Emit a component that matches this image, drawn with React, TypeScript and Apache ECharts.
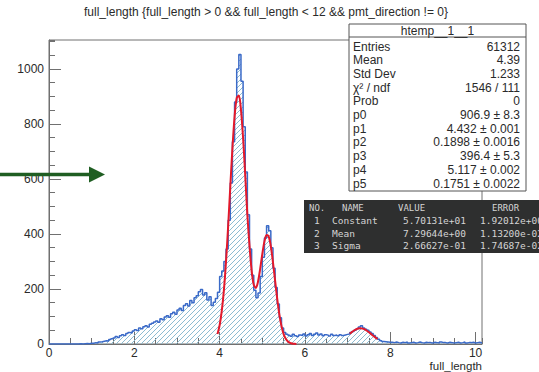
import React, { useEffect, useRef } from 'react';
import * as echarts from 'echarts';

// ---------- data ----------
const titleText = 'full_length {full_length > 0 && full_length < 12 && pmt_direction != 0}';
const xAxisTitle = 'full_length';

// histogram: bin left edges start at 0, width 0.05
const binStart = 0;
const binWidth = 0.05;
const counts = [
  0, 0, 0, 0, 0, 0, 0, 0, 0, 0, 0, 0, 0, 0,
  1, 0, 1, 2, 1, 3,
  3, 5, 4, 7, 8, 10, 12, 11, 16, 19,
  22, 27, 24, 30, 34, 31, 38, 42, 40, 47,
  52, 49, 58, 55, 63, 66, 62, 72, 75, 80,
  84, 79, 92, 88, 98, 103, 97, 110, 115, 108,
  124, 130, 122, 140, 146, 138, 158, 150, 168, 175,
  190, 198, 178, 186, 160, 172, 140, 152, 165, 188,
  245, 265, 300, 345, 450, 585, 735, 880, 1000, 1052,
  955, 790, 625, 470, 345, 250, 195, 168, 185, 245,
  315, 385, 430, 412, 350, 275, 205, 145, 95, 58,
  42, 35, 32, 28, 35, 30, 27, 33, 31, 36,
  29, 34, 38, 31, 35, 40, 33, 36, 30, 34,
  32, 29, 35, 31, 33, 30, 34, 31, 33, 35,
  36, 42, 45, 50, 55, 62, 66, 58, 54, 50,
  44, 38, 31, 24, 17, 12, 9, 8, 7, 6,
  6, 5, 7, 5, 4, 6, 5, 7, 4, 5,
  6, 4, 5, 7, 5, 4, 6, 5, 5, 4,
  6, 5, 4, 7, 5, 5, 4, 6, 5, 4,
  5, 6, 4, 5, 7, 4, 5, 5, 6, 4,
  5, 6, 4,
];

// double-gaussian fit curve
const fitMainX = [
  3.95, 4.0, 4.05, 4.1, 4.15, 4.2, 4.25, 4.3, 4.35, 4.4, 4.45, 4.5, 4.55, 4.6, 4.65,
  4.7, 4.75, 4.8, 4.85, 4.9, 4.95, 5.0, 5.05, 5.1, 5.15, 5.2, 5.25, 5.3, 5.35, 5.4,
  5.45, 5.5, 5.55, 5.6, 5.65, 5.7, 5.75, 5.8,
];
const fitMainY = [
  36, 68, 120, 196, 301, 430, 573, 712, 826, 894, 903, 851, 748, 613, 469,
  358, 267, 215, 204, 227, 273, 327, 373, 396, 390, 355, 297, 230, 164, 107,
  65, 36, 19, 9, 4, 1.6, 0.6, 0.2,
];
// single-gaussian fit around 7.3
const fitSideX = [7.05, 7.1, 7.15, 7.2, 7.25, 7.3, 7.35, 7.4, 7.45, 7.5, 7.55, 7.6, 7.65, 7.7];
const fitSideY = [37.2, 43.5, 49.1, 53.4, 56.2, 57.0, 55.9, 52.8, 48.2, 42.5, 36.2, 29.8, 23.6, 18.1];

// stats box
const statsTitle = 'htemp__1__1';
const statsLabels = ['Entries', 'Mean', 'Std Dev', 'χ² / ndf', 'Prob', 'p0', 'p1', 'p2', 'p3', 'p4', 'p5'];
const statsValues = [
  '61312', '4.39', '1.233', '1546 / 111', '0',
  '906.9 ± 8.3', '4.432 ± 0.001', '0.1898 ± 0.0016', '396.4 ± 5.3', '5.117 ± 0.002', '0.1751 ± 0.0022',
];

// fit result table (terminal overlay)
const tableHeader = ['NO.', 'NAME', 'VALUE', 'ERROR'];
const parNumbers = ['1', '2', '3'];
const parNames = ['Constant', 'Mean', 'Sigma'];
const parValues = ['5.70131e+01', '7.29644e+00', '2.66627e-01'];
const parErrors = ['1.92012e+00', '1.13200e-02', '1.74687e-02'];

// ---------- component ----------
const FONT = 'Liberation Sans, Arial, sans-serif';
const MONO = 'DejaVu Sans Mono, monospace';
const AXIS = '#707070';
const TXT = '#2a2a2a';

export default function App() {
  const ref = useRef<HTMLDivElement>(null);

  useEffect(() => {
    document.body.style.margin = '0';
    if (!ref.current) return;
    const chart = echarts.init(ref.current, undefined, { renderer: 'svg' });

    const c = document.createElement('canvas');
    c.width = 5;
    c.height = 5;
    const ctx = c.getContext('2d')!;
    ctx.strokeStyle = '#8cbcd2';
    ctx.lineWidth = 1;
    ctx.beginPath();
    ctx.moveTo(-1, 6);
    ctx.lineTo(6, -1);
    ctx.moveTo(-1, 1);
    ctx.lineTo(1, -1);
    ctx.moveTo(4, 6);
    ctx.lineTo(6, 4);
    ctx.stroke();

    const histPts: number[][] = counts.map((v, i) => [binStart + i * binWidth, v]);
    histPts.push([binStart + counts.length * binWidth, counts[counts.length - 1]]);
    const xMax = binStart + counts.length * binWidth;

    const fitMain = fitMainX.map((x, i) => [x, fitMainY[i]]);
    const fitSide = fitSideX.map((x, i) => [x, fitSideY[i]]);

    const graphics: any[] = [];
    // title
    graphics.push({
      type: 'text', z: 10,
      style: { text: titleText, x: 266, y: 12, align: 'center', verticalAlign: 'middle', font: `12px ${FONT}`, fill: TXT },
    });
    // x-axis title
    graphics.push({
      type: 'text', z: 10,
      style: { text: xAxisTitle, x: 482, y: 365.5, align: 'right', verticalAlign: 'middle', font: `11.5px ${FONT}`, fill: TXT },
    });
    // stats box
    const bx = 349, by = 24, bw = 177, bh = 167;
    graphics.push({ type: 'rect', z: 10, shape: { x: bx, y: by, width: bw, height: bh }, style: { fill: '#fff', stroke: '#555', lineWidth: 1 } });
    graphics.push({ type: 'line', z: 11, shape: { x1: bx, y1: 37, x2: bx + bw, y2: 37 }, style: { stroke: '#555', lineWidth: 1 } });
    graphics.push({
      type: 'text', z: 11,
      style: { text: statsTitle, x: bx + bw / 2, y: 30.5, align: 'center', verticalAlign: 'middle', font: `12px ${FONT}`, fill: TXT },
    });
    statsLabels.forEach((lab, i) => {
      const y = 46.5 + i * 13.7;
      graphics.push({ type: 'text', z: 11, style: { text: lab, x: bx + 4, y, align: 'left', verticalAlign: 'middle', font: `12px ${FONT}`, fill: TXT } });
      graphics.push({ type: 'text', z: 11, style: { text: statsValues[i], x: bx + bw - 6, y, align: 'right', verticalAlign: 'middle', font: `12px ${FONT}`, fill: TXT } });
    });
    // fit table overlay
    graphics.push({ type: 'rect', z: 20, shape: { x: 304, y: 200, width: 240, height: 53 }, style: { fill: '#2e2f2f' } });
    const colX = [309, 342, 398, 492];
    tableHeader.forEach((h, i) => {
      graphics.push({ type: 'text', z: 21, style: { text: h, x: colX[i], y: 208, align: 'left', verticalAlign: 'middle', font: `9px ${MONO}`, fill: '#d4d4d4' } });
    });
    parNames.forEach((n, i) => {
      const y = 220.5 + i * 12.7;
      const f = `9.5px ${MONO}`;
      graphics.push({ type: 'text', z: 21, style: { text: parNumbers[i], x: 314, y, align: 'left', verticalAlign: 'middle', font: f, fill: '#d4d4d4' } });
      graphics.push({ type: 'text', z: 21, style: { text: n, x: 332, y, align: 'left', verticalAlign: 'middle', font: f, fill: '#d4d4d4' } });
      graphics.push({ type: 'text', z: 21, style: { text: parValues[i], x: 403, y, align: 'left', verticalAlign: 'middle', font: f, fill: '#d4d4d4' } });
      graphics.push({ type: 'text', z: 21, style: { text: parErrors[i], x: 480, y, align: 'left', verticalAlign: 'middle', font: f, fill: '#d4d4d4' } });
    });
    // green arrow
    graphics.push({ type: 'line', z: 30, shape: { x1: 0, y1: 174.5, x2: 92, y2: 174.5 }, style: { stroke: '#1f5e22', lineWidth: 3.5 } });
    graphics.push({ type: 'polygon', z: 30, shape: { points: [[89, 166.5], [105, 174.5], [89, 182.5]] }, style: { fill: '#1f5e22' } });

    const tickStyle = { color: AXIS, width: 1 };
    const plain = (v: number) => String(v);
    const option: any = {
      animation: false,
      backgroundColor: '#ffffff',
      grid: { left: 49, right: 57, top: 40, bottom: 28, show: true, borderColor: AXIS, borderWidth: 1, backgroundColor: 'transparent' },
      xAxis: [
        {
          type: 'value', min: 0, max: xMax, interval: 2, position: 'bottom',
          axisLine: { show: true, lineStyle: { color: AXIS } },
          axisTick: { show: true, inside: true, length: 12, lineStyle: tickStyle },
          axisLabel: { showMaxLabel: false, margin: 3, fontSize: 12, fontFamily: FONT, color: TXT, formatter: plain },
          splitLine: { show: false },
        },
        {
          type: 'value', min: 0, max: xMax, interval: 0.5, position: 'bottom',
          axisLine: { show: false },
          axisTick: { show: true, inside: true, length: 6, lineStyle: tickStyle },
          axisLabel: { show: false },
          splitLine: { show: false },
        },
      ],
      yAxis: [
        {
          type: 'value', min: 0, max: 1105, interval: 200, position: 'left',
          axisLine: { show: true, lineStyle: { color: AXIS } },
          axisTick: { show: true, inside: true, length: 12, lineStyle: tickStyle },
          axisLabel: { showMaxLabel: false, margin: 5, fontSize: 12, fontFamily: FONT, color: TXT, formatter: plain },
          splitLine: { show: false },
        },
        {
          type: 'value', min: 0, max: 1105, interval: 50, position: 'left',
          axisLine: { show: false },
          axisTick: { show: true, inside: true, length: 6, lineStyle: tickStyle },
          axisLabel: { show: false },
          splitLine: { show: false },
        },
      ],
      series: [
        {
          type: 'line', xAxisIndex: 0, yAxisIndex: 0, data: histPts, step: 'end', symbol: 'none',
          lineStyle: { color: '#3a6ac8', width: 1.5 },
          areaStyle: { color: { image: c, repeat: 'repeat', imageWidth: 5, imageHeight: 5 }, opacity: 1 },
          z: 2,
        },
        {
          type: 'line', xAxisIndex: 0, yAxisIndex: 0, data: fitMain, symbol: 'none', smooth: 0.3,
          lineStyle: { color: '#e3192b', width: 2 }, z: 3,
        },
        {
          type: 'line', xAxisIndex: 0, yAxisIndex: 0, data: fitSide, symbol: 'none', smooth: 0.3,
          lineStyle: { color: '#e3192b', width: 2 }, z: 3,
        },
      ],
      graphic: graphics,
    };
    chart.setOption(option);
    return () => chart.dispose();
  }, []);

  return <div ref={ref} style={{ width: 539, height: 372 }} />;
}
